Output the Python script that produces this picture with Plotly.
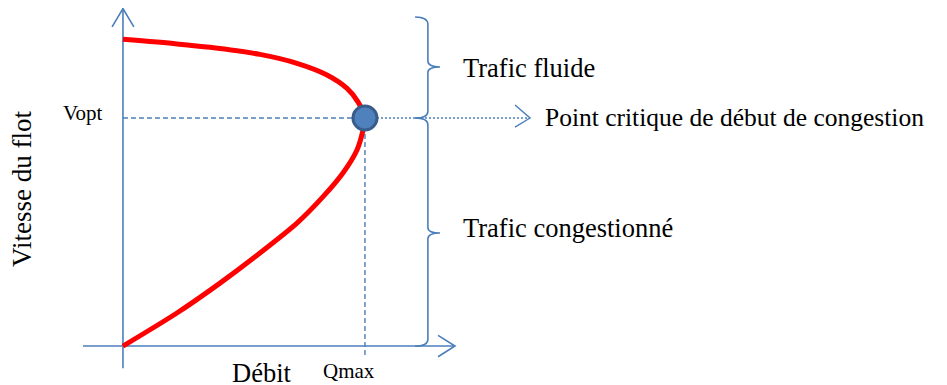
import plotly.graph_objects as go

flow_upper = [0.0, 0.223, 0.36, 0.566, 0.719, 0.843, 0.926, 0.971, 1.0]
speed_upper = [1.345, 1.325, 1.31, 1.279, 1.24, 1.189, 1.13, 1.071, 1.0]
flow_lower = [0.992, 0.967, 0.909, 0.826, 0.719, 0.566, 0.401, 0.223, 0.0]
speed_lower = [0.947, 0.86, 0.759, 0.654, 0.539, 0.408, 0.276, 0.145, 0.0]

q_max = 1.0
v_opt = 1.0

x_title = "Débit"
y_title = "Vitesse du flot"
q_label = "Qmax"
v_label = "Vopt"
region_labels = ["Trafic fluide", "Trafic congestionné"]
critical_label = "Point critique de début de congestion"

BLUE = "#4a7ebb"
FONT = "Liberation Serif, Times New Roman, serif"

fig = go.Figure()

# speed-flow curve
fig.add_trace(go.Scatter(
    x=flow_upper + flow_lower, y=speed_upper + speed_lower,
    mode="lines", line=dict(color="#ff0000", width=5, shape="spline", smoothing=0.8),
    hoverinfo="skip"))

# critical point
fig.add_trace(go.Scatter(
    x=[q_max], y=[v_opt], mode="markers",
    marker=dict(size=24, color="#4f81bd", line=dict(color="#385d8a", width=3)),
    hoverinfo="skip"))


def seg(x0, y0, x1, y1, dash="solid", width=1.6):
    fig.add_shape(type="line", x0=x0, y0=y0, x1=x1, y1=y1, xref="x", yref="y",
                  layer="below", line=dict(color=BLUE, width=width, dash=dash))


def path(d, width=1.6):
    fig.add_shape(type="path", path=d, xref="x", yref="y", layer="below",
                  line=dict(color=BLUE, width=width))


# axes with open arrow heads
seg(0, -0.097, 0, 1.48)
path("M -0.045,1.40 L 0,1.48 L 0.045,1.40")
seg(-0.165, 0, 1.372, 0)
path("M 1.302,0.047 L 1.372,0 L 1.302,-0.047")

# reference lines
seg(0, v_opt, q_max, v_opt, dash="5px,3px", width=1.4)
seg(q_max, v_opt, q_max, -0.053, dash="5px,3px", width=1.4)
seg(q_max, v_opt, 1.682, v_opt, dash="2px,2px", width=1.4)
path("M 1.62,1.057 L 1.682,1.0 L 1.62,0.96", width=1.4)

# braces
bx, hx, tx = 1.26, 1.207, 1.31
path(f"M {hx},1.443 Q {bx},1.443 {bx},1.41 L {bx},1.25 Q {bx},1.224 {tx},1.224 "
     f"Q {bx},1.224 {bx},1.20 L {bx},1.03 Q {bx},1.0 {hx},1.0")
path(f"M {hx},1.0 Q {bx},1.0 {bx},0.97 L {bx},0.52 Q {bx},0.496 {tx},0.496 "
     f"Q {bx},0.496 {bx},0.47 L {bx},0.03 Q {bx},0.0 {hx},0.0")

# texts
fig.add_annotation(x=1.397, y=1.219, text=region_labels[0], showarrow=False,
                   xanchor="left", font=dict(size=26.5))
fig.add_annotation(x=1.397, y=0.518, text=region_labels[1], showarrow=False,
                   xanchor="left", font=dict(size=26.5))
fig.add_annotation(x=1.735, y=1.004, text=critical_label, showarrow=False,
                   xanchor="left", font=dict(size=25.5))
fig.add_annotation(x=-0.078, y=1.022, text=v_label, showarrow=False,
                   xanchor="right", font=dict(size=21))
fig.add_annotation(x=0.934, y=-0.11, text=q_label, showarrow=False,
                   font=dict(size=21))
fig.add_annotation(x=0.574, y=-0.118, text=x_title, showarrow=False,
                   font=dict(size=26.5))
fig.add_annotation(x=-0.417, y=0.689, text=y_title, showarrow=False,
                   textangle=-90, font=dict(size=27))

# the page body adds an 8px offset, so ranges start 8px into the drawing
fig.update_layout(
    width=947, height=385,
    margin=dict(l=0, r=0, t=0, b=0),
    paper_bgcolor="white", plot_bgcolor="white",
    showlegend=False,
    font=dict(family=FONT, color="black"),
    xaxis=dict(range=[-0.475, 3.438], visible=False, fixedrange=True),
    yaxis=dict(range=[-0.206, 1.4825], visible=False, fixedrange=True),
)

fig.write_html("out.html")
